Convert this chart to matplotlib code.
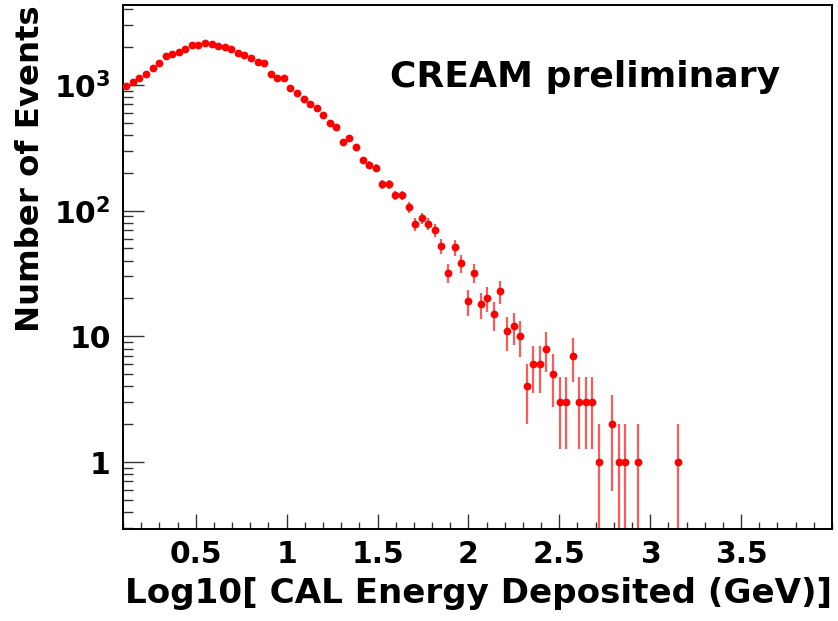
import numpy as np
import matplotlib
matplotlib.use("Agg")
import matplotlib.pyplot as plt
from matplotlib.ticker import FixedLocator, FixedFormatter, MultipleLocator, NullFormatter

plt.rcParams['font.family'] = ['DejaVu Sans']
plt.rcParams['font.weight'] = 'bold'
plt.rcParams['mathtext.fontset'] = 'dejavusans'
plt.rcParams['mathtext.default'] = 'bf'

# ---- data: histogram of log10(CAL energy), 108 bins from 0.1 to 4.0 ----
bin_lo = 0.1
bin_hi = 4.0
n_bins = 108
counts = [982, 1056, 1143, 1229, 1364, 1503, 1708, 1753, 1838, 1942,
          2089, 2065, 2143, 2104, 2039, 2014, 1920, 1805, 1721, 1647,
          1522, 1486, 1229, 1143, 1130, 952, 864, 770, 711, 657,
          575, 497, 464, 351, 380, 322, 251, 232, 219, 162,
          162, 133, 133, 106, 78, 87, 79, 70, 52, 32,
          51, 38, 19, 32, 18, 20, 15, 23, 11, 12,
          10, 4, 6, 6, 8, 5, 3, 3, 7, 3,
          3, 3, 1, 0, 2, 1, 1, 0, 1, 0,
          0, 0, 0, 0, 1]

x_ticks = [0.5, 1.0, 1.5, 2.0, 2.5, 3.0, 3.5]
x_tick_labels = ['0.5', '1', '1.5', '2', '2.5', '3', '3.5']
y_ticks = [1, 10, 100, 1000]
y_tick_labels = ['1', '10', r'$\mathbf{10^{2}}$', r'$\mathbf{10^{3}}$']

x_label = 'Log10[ CAL Energy Deposited (GeV)]'
y_label = 'Number of Events'
annotation = 'CREAM preliminary'

# ---- derived ----
edges = np.linspace(bin_lo, bin_hi, n_bins + 1)
centers = 0.5 * (edges[:-1] + edges[1:])[:len(counts)]
counts = np.array(counts, dtype=float)
mask = counts > 0
xc = centers[mask]
yc = counts[mask]
err = np.sqrt(yc)
err_lo = np.minimum(err, yc * 0.99999)
err_hi = err

W, H = 838, 621
fig = plt.figure(figsize=(W / 100, H / 100), dpi=100)
L, R, B, T = 123, 832, 529, 5
ax = fig.add_axes([L / W, 1 - B / H, (R - L) / W, (B - T) / H])

ax.set_yscale('log')
ax.vlines(xc, yc - err_lo, yc + err_hi, colors='#ff5a5a', linewidth=1.6, zorder=2)
ax.plot(xc, yc, 'o', color='#ff0000', markersize=5.6, markeredgewidth=0, zorder=3)

ax.set_xlim(bin_lo, bin_hi)
ax.set_ylim(0.293, 4330)

ax.xaxis.set_major_locator(FixedLocator(x_ticks))
ax.xaxis.set_major_formatter(FixedFormatter(x_tick_labels))
ax.xaxis.set_minor_locator(MultipleLocator(0.1))
ax.yaxis.set_major_locator(FixedLocator(y_ticks))
ax.yaxis.set_major_formatter(FixedFormatter(y_tick_labels))
minor_y = [m * 10 ** e for e in range(-1, 4) for m in range(2, 10)]
ax.yaxis.set_minor_locator(FixedLocator(minor_y))
ax.yaxis.set_minor_formatter(NullFormatter())

for s in ['top', 'right', 'left', 'bottom']:
    ax.spines[s].set_linewidth(1.4)
    ax.spines[s].set_color('black')

ax.tick_params(axis='x', which='major', direction='in', length=10.5, width=1.0,
               color='#333333', labelsize=21.5, pad=8, top=False)
ax.tick_params(axis='x', which='minor', direction='in', length=5.2, width=1.0,
               color='#333333', top=False)
ax.tick_params(axis='y', which='major', direction='in', length=15, width=1.0,
               color='#333333', labelsize=21.5, pad=9, right=False)
ax.tick_params(axis='y', which='minor', direction='in', length=7.5, width=1.0,
               color='#333333', right=False)
for lab in ax.get_xticklabels() + ax.get_yticklabels():
    lab.set_fontweight('bold')

ax.set_xlabel(x_label, fontsize=24.6, fontweight='bold', loc='right')
ax.xaxis.set_label_coords(1.0, -0.091)
ax.set_ylabel(y_label, fontsize=23.3, fontweight='bold', loc='top')
ax.yaxis.set_label_coords(-0.108, 1.0)

ax.text(0.377, 0.8435, annotation, transform=ax.transAxes, fontsize=26,
        fontweight='bold', ha='left', va='baseline')

fig.savefig('out.png', dpi=100, facecolor='white')
